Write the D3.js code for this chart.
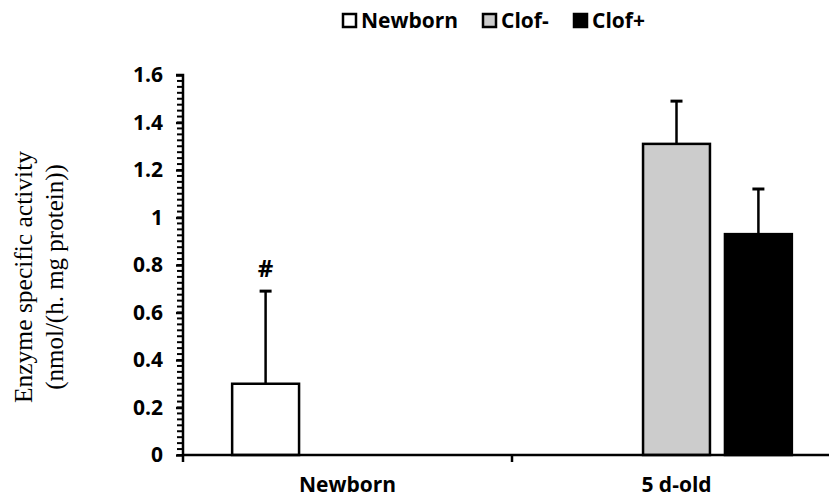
<!DOCTYPE html>
<html><head><meta charset="utf-8">
<script src="https://cdn.jsdelivr.net/npm/d3@7"></script>
<style>body{margin:0;background:#fff}</style>
</head><body>
<svg id="c" width="829" height="498"></svg>
<script>
const categories = ["Newborn", "5 d-old"];
const seriesNames = ["Newborn", "Clof-", "Clof+"];
const seriesColors = ["#ffffff", "#cccccc", "#000000"];
// values per series per category (null = no bar)
const newbornValues = [0.30, null];
const clofMinusValues = [null, 1.31];
const clofPlusValues = [null, 0.93];
const newbornErr = [0.39, null];
const clofMinusErr = [null, 0.18];
const clofPlusErr = [null, 0.19];
const yTicks = [0, 0.2, 0.4, 0.6, 0.8, 1, 1.2, 1.4, 1.6];
const annotations = [{cat: "Newborn", series: "Newborn", text: "#"}];

const values = [newbornValues, clofMinusValues, clofPlusValues];
const errs = [newbornErr, clofMinusErr, clofPlusErr];

const svg = d3.select("#c");
const pL = 183, pR = 841, pT = 75, pB = 455;
const sansF = "Open Sans, sans-serif";

const x0 = d3.scaleBand().domain(categories).range([pL, pR]).paddingInner(0).paddingOuter(0);
const x1 = d3.scaleBand().domain(seriesNames).range([0, x0.bandwidth()]).paddingInner(0.183).paddingOuter(0.6);
const y = d3.scaleLinear().domain([0, 1.6]).range([pB, pT]);

// minor ticks
const minor = d3.range(0, 1.6001, 0.025);
svg.append("g").selectAll("line").data(minor).join("line")
  .attr("x1", pL - 6).attr("x2", pL).attr("y1", d => y(d)).attr("y2", d => y(d))
  .attr("stroke", "#000").attr("stroke-width", 2);

// y axis
const yAxis = d3.axisLeft(y).tickValues(yTicks).tickFormat(d => d3.format("")(d)).tickSize(7).tickPadding(13);
const gy = svg.append("g").attr("transform", `translate(${pL},0)`).call(yAxis);
gy.select(".domain").attr("stroke-width", 2.5).attr("d", `M-7,${pT}H0V${pB}`);
gy.selectAll(".tick line").attr("stroke-width", 2.5);
gy.selectAll(".tick text").attr("font-family", sansF).attr("font-weight", "bold")
  .attr("font-size", 21).attr("fill", "#000");

// bars
categories.forEach((c, ci) => {
  seriesNames.forEach((s, si) => {
    const v = values[si][ci];
    if (v == null) return;
    const bx = x0(c) + x1(s);
    const bw = x1.bandwidth();
    const e = errs[si][ci];
    const cx = bx + bw / 2;
    svg.append("line").attr("x1", cx).attr("x2", cx).attr("y1", y(v)).attr("y2", y(v + e))
      .attr("stroke", "#000").attr("stroke-width", 2.5);
    svg.append("line").attr("x1", cx - 6).attr("x2", cx + 6).attr("y1", y(v + e)).attr("y2", y(v + e))
      .attr("stroke", "#000").attr("stroke-width", 3);
    svg.append("rect").attr("x", bx).attr("y", y(v)).attr("width", bw).attr("height", y(0) - y(v))
      .attr("fill", seriesColors[si]).attr("stroke", "#000").attr("stroke-width", 2.5);
    annotations.filter(a => a.cat === c && a.series === s).forEach(a => {
      svg.append("text").attr("x", cx).attr("y", y(v + e) - 14).attr("text-anchor", "middle")
        .attr("font-family", sansF).attr("font-weight", "bold").attr("font-size", 24)
        .text(a.text);
    });
  });
});

// x axis
svg.append("line").attr("x1", pL).attr("x2", 829).attr("y1", pB).attr("y2", pB)
  .attr("stroke", "#000").attr("stroke-width", 2.5);
const catTicks = [pL, x0(categories[1])];
svg.append("g").selectAll("line").data(catTicks).join("line")
  .attr("x1", d => d).attr("x2", d => d).attr("y1", pB).attr("y2", pB + 7)
  .attr("stroke", "#000").attr("stroke-width", 2.5);
svg.append("g").selectAll("text").data(categories).join("text")
  .attr("x", d => x0(d) + x0.bandwidth() / 2).attr("y", 492).attr("text-anchor", "middle")
  .attr("font-family", sansF).attr("font-weight", "bold").attr("font-size", 21)
  .text(d => d);

// y title
const yt = svg.append("text").attr("transform", `translate(32,277) rotate(-90)`)
  .attr("text-anchor", "middle").attr("font-family", "Liberation Serif, serif").attr("font-size", 25.5);
yt.append("tspan").attr("x", 0).attr("dy", 0).text("Enzyme specific activity");
yt.append("tspan").attr("x", 0).attr("dy", 31).attr("font-size", 25).text("(nmol/(h. mg protein))");

// legend
const legX = [342, 482, 573];
const lg = svg.append("g");
seriesNames.forEach((s, i) => {
  lg.append("rect").attr("x", legX[i] + 1).attr("y", 14).attr("width", 13).attr("height", 13)
    .attr("fill", seriesColors[i]).attr("stroke", "#000").attr("stroke-width", 2.5);
  lg.append("text").attr("x", legX[i] + 19).attr("y", 28)
    .attr("font-family", sansF).attr("font-weight", "bold").attr("font-size", 21)
    .text(s);
});
</script>
</body></html>
